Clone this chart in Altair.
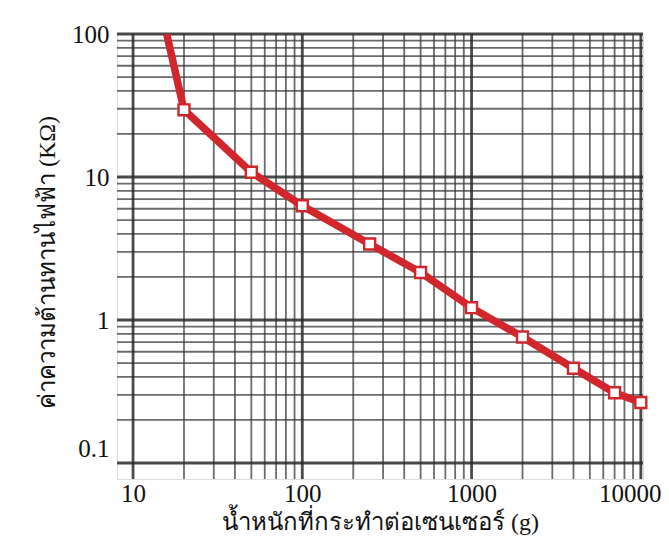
import altair as alt
import pandas as pd

# data
load_g = [15.8, 20, 50, 100, 250, 500, 1000, 2000, 4000, 7000, 10000]
resist_k = [100, 29.5, 10.8, 6.3, 3.4, 2.15, 1.22, 0.76, 0.46, 0.31, 0.265]
has_marker = [False, True, True, True, True, True, True, True, True, True, True]

x_major = [10, 100, 1000, 10000]
x_minor = [20, 30, 40, 50, 60, 70, 80, 90,
           200, 300, 400, 500, 600, 700, 800, 900,
           2000, 3000, 4000, 5000, 6000, 7000, 8000, 9000]
y_major = [0.1, 1, 10, 100]
y_minor = [0.2, 0.3, 0.4, 0.5, 0.6, 0.7, 0.8, 0.9,
           2, 3, 4, 5, 6, 7, 8, 9,
           20, 30, 40, 50, 60, 70, 80, 90]

x_title = "น้ำหนักที่กระทำต่อเซนเซอร์ (g)"
y_title = "ค่าความต้านทานไฟฟ้า (KΩ)"

df = pd.DataFrame({"x": load_g, "y": resist_k, "m": has_marker})

FONT = "Liberation Serif"
RED = "#d0262c"

xscale = alt.Scale(type="log", domain=[8.04, 10300], nice=False)
yscale = alt.Scale(type="log", domain=[0.0773, 100], nice=False)

label_expr = ("abs(log(datum.value)/LN10 - round(log(datum.value)/LN10)) < 1e-6 "
              "? format(datum.value, '~g') : ''")

xaxis = alt.Axis(title=x_title, values=x_major, labelExpr=label_expr,
                 grid=False, domain=False, ticks=False,
                 labelFont=FONT, labelFontSize=25, labelColor="#111",
                 labelPadding=2,
                 labelOffset={"condition": {"test": "datum.value > 5000", "value": -11}, "value": 0},
                 titleFont=FONT, titleFontSize=24,
                 titleFontWeight="normal", titleColor="#111",
                 titlePadding=4)
yaxis = alt.Axis(title=y_title, values=y_major, labelExpr=label_expr,
                 grid=False, domain=False, ticks=False,
                 labelFont=FONT, labelFontSize=25, labelColor="#111",
                 labelPadding=8,
                 labelOffset={"condition": {"test": "datum.value < 0.5", "value": -15}, "value": 0},
                 titleFont=FONT, titleFontSize=24,
                 titleFontWeight="normal", titleColor="#111",
                 titlePadding=12, titleY=228)

vminor = alt.Chart(pd.DataFrame({"v": x_minor})).mark_rule(
    color="#3a3a3a", strokeWidth=1.8, opacity=0.75).encode(
        x=alt.X("v:Q", scale=xscale, axis=xaxis))
hminor = alt.Chart(pd.DataFrame({"v": y_minor})).mark_rule(
    color="#3a3a3a", strokeWidth=1.8, opacity=0.75).encode(
        y=alt.Y("v:Q", scale=yscale, axis=yaxis))
vmajor = alt.Chart(pd.DataFrame({"v": x_major})).mark_rule(
    color="#2a2a2a", strokeWidth=2.8, opacity=0.85).encode(
        x=alt.X("v:Q", scale=xscale, axis=xaxis))
hmajor = alt.Chart(pd.DataFrame({"v": y_major})).mark_rule(
    color="#2a2a2a", strokeWidth=2.8, opacity=0.85).encode(
        y=alt.Y("v:Q", scale=yscale, axis=yaxis))

base = alt.Chart(df).encode(
    x=alt.X("x:Q", scale=xscale, axis=xaxis),
    y=alt.Y("y:Q", scale=yscale, axis=yaxis),
)

line = base.mark_line(color=RED, strokeWidth=7.5, clip=True)
pts = base.transform_filter("datum.m").mark_point(
    shape="square", size=120, filled=True, fill="white", stroke=RED,
    strokeWidth=2.4, opacity=1)

chart = alt.layer(vminor, hminor, vmajor, hmajor, line, pts).properties(
    width=526, height=445,
    autosize=alt.AutoSizeParams(type="none"),
    padding={"left": 109, "top": 26, "right": 18, "bottom": 60},
).configure_view(stroke=None).configure(background="white")

chart.save("out.html", embed_options={"renderer": "svg", "actions": False})
